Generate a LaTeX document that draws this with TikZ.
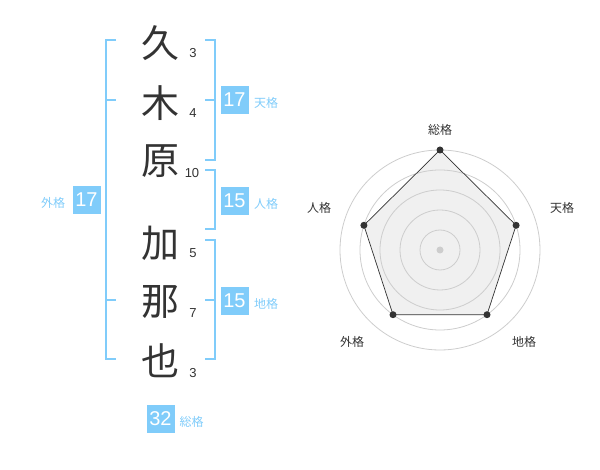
\documentclass[tikz,border=0pt]{standalone}
\usepackage{fontspec}
\setmainfont{Liberation Sans}
\newfontfamily\cjk{Noto Sans CJK JP}
\definecolor{kakublue}{RGB}{128,204,250}
\definecolor{inkgray}{RGB}{51,51,51}
\definecolor{ringgray}{RGB}{205,205,205}
\definecolor{areagray}{RGB}{240,240,240}
\tikzset{
	kanji/.style={font=\cjk\fontsize{38}{38}\selectfont,text=inkgray,inner sep=0pt},
	strokes/.style={font=\fontsize{13}{13}\selectfont,text=inkgray,inner sep=0pt},
	kakubox/.style={fill=kakublue,text=white,minimum size=28pt,inner sep=0pt,font=\fontsize{20}{20}\selectfont},
	kakulabel/.style={font=\cjk\fontsize{12}{12}\selectfont,text=kakublue,inner sep=0pt},
	bracket/.style={draw=kakublue,line width=2pt},
	radarlabel/.style={font=\cjk\fontsize{12}{12}\selectfont,text=inkgray,inner sep=0pt}
}
\begin{document}
\begin{tikzpicture}[line join=miter,x=1pt,y=-1pt]
				\useasboundingbox (0,0) rectangle (600,470);
				% name
				\node[kanji] (c1) at (160,43) {久};
				\node[kanji] (c2) at (160,103) {木};
				\node[kanji] (c3) at (160,161) {原};
				\node[kanji] (c4) at (160,243) {加};
				\node[kanji] (c5) at (160,302) {那};
				\node[kanji] (c6) at (160,361) {也};
				\node[strokes] (n1) at (193,53) {3};
				\node[strokes] (n2) at (193,113) {4};
				\node[strokes] (n3) at (192,173) {10};
				\node[strokes] (n4) at (193,253) {5};
				\node[strokes] (n5) at (193,313) {7};
				\node[strokes] (n6) at (193,373) {3};
				% brackets
				\draw [bracket] (116,40)-- (106,40)-- (106,359)-- (116,359);
				\draw [bracket] (106,100)-- (116,100);
				\draw [bracket] (106,300)-- (116,300);
				\draw [bracket] (205,40)-- (215,40)-- (215,160)-- (205,160);
				\draw [bracket] (205,100)-- (215,100);
				\draw [bracket] (205,170)-- (215,170)-- (215,229)-- (205,229);
				\draw [bracket] (205,240)-- (215,240)-- (215,359)-- (205,359);
				\draw [bracket] (205,300)-- (215,300);
				% kaku
				\node[kakubox] (gai) at (86.5,200) {17};
				\node[kakulabel] (gail) at (53,202.5) {外格};
				\node[kakubox] (ten) at (234.5,100) {17};
				\node[kakulabel] (tenl) at (266,102.5) {天格};
				\node[kakubox] (jin) at (234.5,201) {15};
				\node[kakulabel] (jinl) at (266,203.5) {人格};
				\node[kakubox] (chi) at (234.5,301) {15};
				\node[kakulabel] (chil) at (266,303.5) {地格};
				\node[kakubox] (sou) at (160.5,419) {32};
				\node[kakulabel] (soul) at (191.5,422) {総格};
				% radar
				\coordinate (O) at (440,250);
				\coordinate (p1) at (440,150);
				\coordinate (p2) at (516.1,225.3);
				\coordinate (p3) at (487.0,314.7);
				\coordinate (p4) at (393.0,314.7);
				\coordinate (p5) at (363.9,225.3);
				\fill [areagray] (p1)-- (p2)-- (p3)-- (p4)-- (p5)-- cycle;
				\foreach \r in {20,40,60,80,100}
					\draw [ringgray,line width=0.8pt] (O) circle (\r);
				\draw [inkgray,line width=0.7pt] (p1)-- (p2)-- (p3)-- (p4)-- (p5)-- cycle;
				\foreach \p in {p1,p2,p3,p4,p5}
					\fill [inkgray] (\p) circle (3.5);
				\fill [ringgray] (O) circle (3.5);
				\node[radarlabel] (r1) at (440,130) {総格};
				\node[radarlabel] (r2) at (562,208) {天格};
				\node[radarlabel] (r3) at (524,342) {地格};
				\node[radarlabel] (r4) at (352,342) {外格};
				\node[radarlabel] (r5) at (319,208) {人格};
			\end{tikzpicture}
\end{document}
